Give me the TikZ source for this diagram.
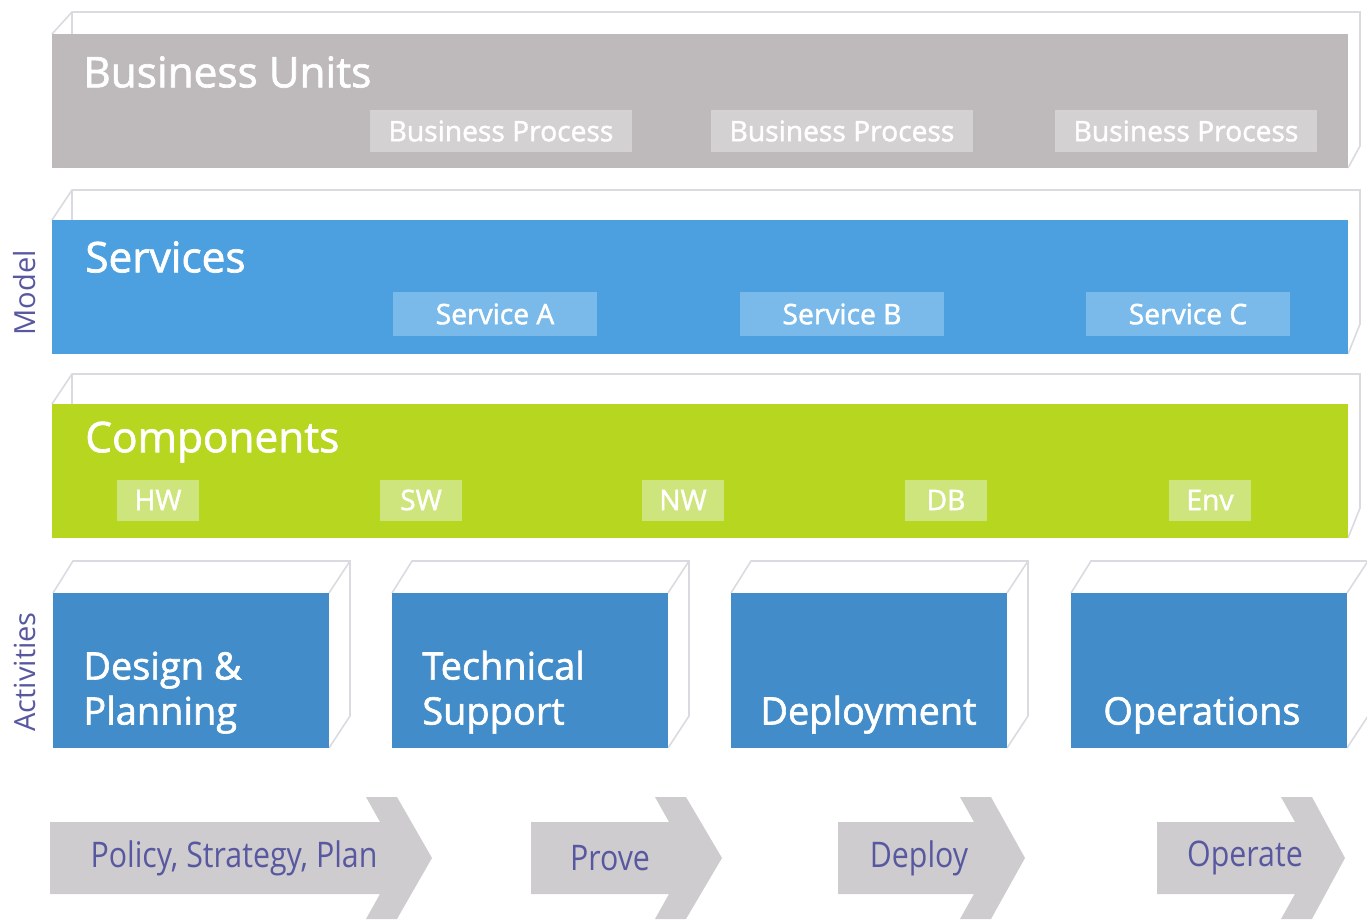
\documentclass[tikz,border=0pt]{standalone}
\usepackage{fontspec}
\setmainfont{Open Sans}
\newfontface\heavyface{Open Sans}[FakeBold=1.6]
\newfontface\narrowface{Open Sans}[FakeStretch=0.86]
\usetikzlibrary{positioning}
\definecolor{bugray}{RGB}{190,186,187}
\definecolor{bpgray}{RGB}{212,209,210}
\definecolor{svblue}{RGB}{76,160,224}
\definecolor{svchip}{RGB}{122,186,234}
\definecolor{cogreen}{RGB}{182,214,32}
\definecolor{cochip}{RGB}{206,228,124}
\definecolor{acblue}{RGB}{66,140,201}
\definecolor{arrgray}{RGB}{206,204,206}
\definecolor{labblue}{RGB}{88,88,160}
\definecolor{ghost}{RGB}{218,218,224}

\begin{document}
\begin{tikzpicture}[x=0.567pt, y=-0.567pt,
    ghostline/.style={ghost, line width=0.9pt},
    bartitle/.style={anchor=west, text=white, inner sep=0pt, font=\heavyface\fontsize{24}{26}\selectfont},
    chip/.style={text=white, inner sep=0pt, font=\heavyface\fontsize{16}{18}\selectfont},
    acttext/.style={anchor=south west, align=left, text=white, inner sep=0pt, font=\heavyface\fontsize{21.5}{25.5}\selectfont},
    sidelabel/.style={rotate=90, text=labblue, inner sep=0pt, font=\fontsize{16.5}{18}\selectfont},
    steptext/.style={text=labblue, inner sep=0pt, font=\narrowface\fontsize{20}{22}\selectfont}]
    \useasboundingbox (0,0) rectangle (1367,920);

    % layers of the model, each with a faint back face
    \foreach \top/\dy/\col in {34/22/bugray, 220/30/svblue, 404/30/cogreen} {
        \draw[ghostline] (52,\top) -- (72,\top-\dy) -- (1360,\top-\dy) -- (1360,\top+134-\dy) -- (1348,\top+134);
        \draw[ghostline] (72,\top-\dy) -- (72,\top+134-\dy) -- (1348,\top+134-\dy);
        \fill[\col] (52,\top) rectangle (1348,\top+134);
    }
    \node[bartitle] (bu) at (83,72) {Business Units};
    \node[bartitle] (svc) at (85,257) {Services};
    \node[bartitle] (comp) at (85,442) {Components};

    \foreach \cx [count=\i] in {501,842,1186} {
        \fill[bpgray] (\cx-131,110) rectangle (\cx+131,152);
        \node[chip] (bp\i) at (\cx,131) {Business Process};
    }
    \foreach \cx/\lab [count=\i] in {495/A,842/B,1188/C} {
        \fill[svchip] (\cx-102,292) rectangle (\cx+102,336);
        \node[chip] (sv\i) at (\cx,314) {Service \lab};
    }
    \foreach \cx/\lab [count=\i] in {158/HW,421/SW,683/NW,946/DB,1210/Env} {
        \fill[cochip] (\cx-41,480) rectangle (\cx+41,521);
        \node[chip] (co\i) at (\cx,500) {\lab};
    }

    % activities
    \foreach \x in {53,392,731,1071} {
        \draw[ghostline] (\x,593) -- (\x+20,561) -- (\x+297,561) -- (\x+297,716) -- (\x+276,748);
        \draw[ghostline] (\x+276,593) -- (\x+297,561);
        \fill[acblue] (\x,593) rectangle (\x+276,748);
    }
    \node[acttext] (design) at (83,734) {Design \&\\Planning};
    \node[acttext] (tech) at (422,734) {Technical\\Support};
    \node[acttext] (deploy) at (760,734) {Deployment};
    \node[acttext] (ops) at (1103,734) {Operations};

    \node[sidelabel] (model) at (25,293) {Model};
    \node[sidelabel] (act) at (25,672) {Activities};

    % process steps
    \foreach \bx/\hx/\tx in {50/366/432, 531/655/722, 838/960/1025, 1157/1281/1345} {
        \fill[arrgray] (\bx,822) -- (\hx+14,822) -- (\hx,797) -- (\hx+31,797) -- (\tx,858)
            -- (\hx+31,919) -- (\hx,919) -- (\hx+14,894) -- (\bx,894) -- cycle;
    }
    \node[steptext] (policy) at (234,858) {Policy, Strategy, Plan};
    \node[steptext] (prove) at (610,858) {Prove};
    \node[steptext] (dep) at (919,858) {Deploy};
    \node[steptext] (oper) at (1245,858) {Operate};
\end{tikzpicture}
\end{document}
